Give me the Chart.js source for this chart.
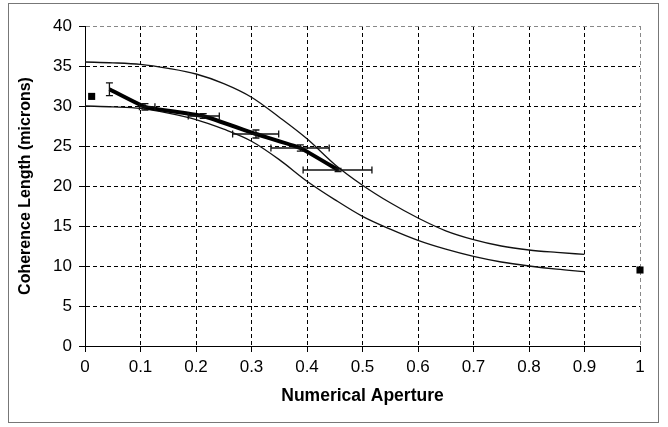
<!DOCTYPE html>
<html>
<head>
<meta charset="utf-8">
<script src="https://cdn.jsdelivr.net/npm/chart.js@4"></script>
<style>
  html, body { margin: 0; padding: 0; background: #fff; }
  #wrap { position: relative; width: 668px; height: 427px; }
  #frame { position: absolute; left: 8px; top: 3px; width: 651px; height: 420px; border: 1px solid #777; box-sizing: border-box; }
  canvas { position: absolute; left: 0; top: 0; }
</style>
</head>
<body>
<div id="wrap">
  <div id="frame"></div>
  <canvas id="c" width="668" height="427"></canvas>
</div>
<script>
// Measured data (numerical aperture vs coherence length)
const naData  = [0.044, 0.108, 0.213, 0.308, 0.388, 0.456];
const clData  = [32.1, 29.9, 28.75, 26.5, 24.75, 22.0];
const clErr   = [0.8, 0.4, 0.3, 0.5, 0.4, 0.2];
const naLow   = [0.044, 0.098, 0.186, 0.266, 0.335, 0.393];
const naHigh  = [0.044, 0.126, 0.242, 0.349, 0.440, 0.517];

// Isolated markers
const extraNA = [0.012, 1.0];
const extraCL = [31.2, 9.5];

// Model curves
const curveNA    = [0, 0.05, 0.1, 0.15, 0.2, 0.25, 0.3, 0.35, 0.4, 0.45, 0.5, 0.55, 0.6, 0.65, 0.7, 0.75, 0.8, 0.85, 0.9];
const upperCurve = [35.5, 35.4, 35.2, 34.7, 34.0, 32.8, 31.1, 28.6, 25.9, 22.7, 20.1, 17.9, 16.0, 14.4, 13.3, 12.5, 12.0, 11.7, 11.45];
const lowerCurve = [30.0, 29.9, 29.7, 29.1, 28.3, 27.1, 25.6, 23.3, 20.6, 18.3, 16.2, 14.6, 13.2, 12.1, 11.2, 10.5, 10.0, 9.6, 9.3];

const xTicks = [0, 0.1, 0.2, 0.3, 0.4, 0.5, 0.6, 0.7, 0.8, 0.9, 1];
const yTicks = [0, 5, 10, 15, 20, 25, 30, 35, 40];

const pts = (xs, ys) => xs.map((x, i) => ({ x: x, y: ys[i] }));

const errorBars = {
  id: 'errorBars',
  afterDatasetsDraw(chart) {
    const xs = chart.scales.x, ys = chart.scales.y, ctx = chart.ctx;
    ctx.save();
    ctx.strokeStyle = '#111';
    ctx.lineWidth = 1.3;
    const cap = 3.5;
    naData.forEach((na, i) => {
      const px = xs.getPixelForValue(na);
      const py = ys.getPixelForValue(clData[i]);
      const yTop = ys.getPixelForValue(clData[i] + clErr[i]);
      const yBot = ys.getPixelForValue(clData[i] - clErr[i]);
      ctx.beginPath();
      ctx.moveTo(px, yTop); ctx.lineTo(px, yBot);
      ctx.moveTo(px - cap, yTop); ctx.lineTo(px + cap, yTop);
      ctx.moveTo(px - cap, yBot); ctx.lineTo(px + cap, yBot);
      if (naHigh[i] > naLow[i]) {
        const xl = xs.getPixelForValue(naLow[i]);
        const xr = xs.getPixelForValue(naHigh[i]);
        ctx.moveTo(xl, py); ctx.lineTo(xr, py);
        ctx.moveTo(xl, py - cap); ctx.lineTo(xl, py + cap);
        ctx.moveTo(xr, py - cap); ctx.lineTo(xr, py + cap);
      }
      ctx.stroke();
    });
    ctx.restore();
  }
};

const FONT = "'Liberation Sans', Arial, sans-serif";

new Chart(document.getElementById('c'), {
  type: 'scatter',
  data: {
    datasets: [
      { data: pts(naData, clData), showLine: true, borderColor: '#000', borderWidth: 4, pointRadius: 0, tension: 0.1 },
      { data: pts(curveNA, upperCurve), showLine: true, borderColor: '#111', borderWidth: 1.3, pointRadius: 0, cubicInterpolationMode: 'monotone' },
      { data: pts(curveNA, lowerCurve), showLine: true, borderColor: '#111', borderWidth: 1.3, pointRadius: 0, cubicInterpolationMode: 'monotone' },
      { data: pts(extraNA, extraCL), showLine: false, pointStyle: 'rect', pointRadius: 5, backgroundColor: '#000', borderColor: '#000', borderWidth: 0, clip: 10 }
    ]
  },
  options: {
    responsive: false,
    animation: false,
    devicePixelRatio: 1,
    layout: { padding: { left: 12, right: 28, top: 26, bottom: 16 } },
    plugins: { legend: { display: false }, tooltip: { enabled: false } },
    scales: {
      x: {
        type: 'linear', min: 0, max: 1,
        afterBuildTicks: (s) => { s.ticks = xTicks.map(v => ({ value: v })); },
        afterFit: (s) => { s.height = 65; },
        ticks: { color: '#000', font: { family: FONT, size: 17 }, padding: 5, callback: (v) => String(v), maxRotation: 0 },
        grid: { color: (c) => c.tick && c.tick.value === 1 ? '#888' : '#000', tickLength: 6, tickBorderDash: [], tickColor: '#000', lineWidth: 1 },
        border: { color: '#000', width: 1, dash: [4, 3] },
        title: { display: true, text: 'Numerical Aperture', color: '#000', font: { family: FONT, size: 17.5, weight: 'bold' }, padding: { top: 4 } }
      },
      y: {
        type: 'linear', min: 0, max: 40,
        afterBuildTicks: (s) => { s.ticks = yTicks.map(v => ({ value: v })); },
        afterFit: (s) => { s.width = 73; },
        ticks: { color: '#000', font: { family: FONT, size: 17 }, padding: 7 },
        grid: { color: (c) => c.tick && c.tick.value === 40 ? '#888' : '#000', tickLength: 6, tickBorderDash: [], tickColor: '#000', lineWidth: 1 },
        border: { color: '#000', width: 1, dash: [4, 3] },
        title: { display: true, text: 'Coherence Length (microns)', color: '#000', font: { family: FONT, size: 16, weight: 'bold' }, padding: { bottom: 4 } }
      }
    }
  },
  plugins: [errorBars]
});
</script>
</body>
</html>
